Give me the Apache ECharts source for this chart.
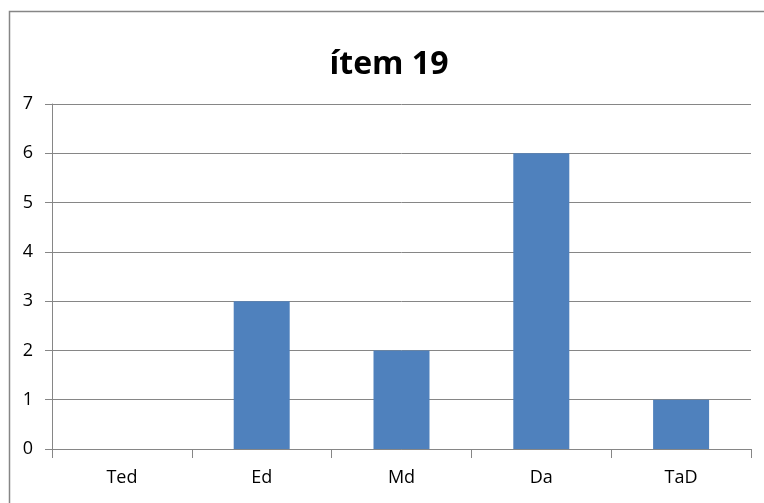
<!DOCTYPE html>
<html><head><meta charset="utf-8">
<script src="https://cdn.jsdelivr.net/npm/echarts@6/dist/echarts.min.js"></script>
<style>html,body{margin:0;padding:0;background:#fff}#c{width:764px;height:503px}</style>
</head><body><div id="c"></div>
<script>
const categories = ['Ted', 'Ed', 'Md', 'Da', 'TaD'];
const values = [0, 3, 2, 6, 1];
const yTicks = [0, 1, 2, 3, 4, 5, 6, 7];

const chart = echarts.init(document.getElementById('c'), null, {renderer: 'canvas'});
chart.setOption({
  animation: false,
  backgroundColor: '#ffffff',
  graphic: [{
    type: 'rect', left: 7, top: 9, shape: {width: 770, height: 510},
    style: {fill: 'none', stroke: '#868686', lineWidth: 1.5}, silent: true
  }],
  title: {
    text: 'ítem 19', left: 384, top: 44, textAlign: 'center',
    textStyle: {fontFamily: 'Open Sans', fontWeight: 'bold', fontSize: 32, color: '#000'}
  },
  grid: {left: 52, right: 13, top: 104, bottom: 54, containLabel: false},
  xAxis: {
    type: 'category', data: categories,
    axisLine: {lineStyle: {color: '#868686', width: 1}},
    axisTick: {show: true, length: 9, lineStyle: {color: '#868686'}},
    axisLabel: {margin: 20, fontFamily: 'Open Sans', fontSize: 18, color: '#000'}
  },
  yAxis: {
    type: 'value', min: yTicks[0], max: yTicks[yTicks.length - 1], interval: 1,
    axisLine: {show: true, lineStyle: {color: '#868686', width: 1}},
    axisTick: {show: true, length: 7, lineStyle: {color: '#868686'}},
    splitLine: {lineStyle: {color: '#868686', width: 1}},
    axisLabel: {margin: 19, fontFamily: 'Open Sans', fontSize: 18, color: '#000'}
  },
  series: [{
    type: 'bar', data: values, barWidth: 56,
    itemStyle: {color: '#4F81BD'}
  }]
});
</script></body></html>
